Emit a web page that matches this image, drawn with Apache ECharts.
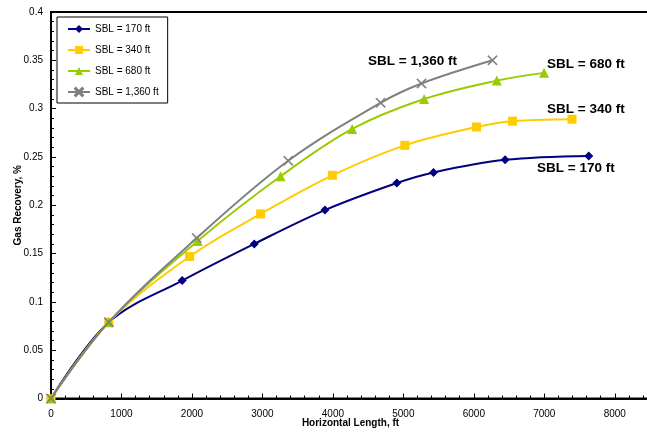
<!DOCTYPE html>
<html>
<head>
<meta charset="utf-8">
<script src="https://cdn.jsdelivr.net/npm/echarts@6/dist/echarts.min.js"></script>
<style>html,body{margin:0;padding:0;background:#fff;}#c{width:647px;height:438px;}</style>
</head>
<body>
<div id="c"></div>
<script>
var seriesNames = ['SBL = 170 ft', 'SBL = 340 ft', 'SBL = 680 ft', 'SBL = 1,360 ft'];
var sbl170 = [[0, 0], [820, 0.079], [1862, 0.122], [2884, 0.160], [3887, 0.195], [4908, 0.223], [5428, 0.234], [6444, 0.247], [7631, 0.251]];
var sbl340 = [[0, 0], [820, 0.079], [1967, 0.147], [2974, 0.191], [3993, 0.231], [5021, 0.262], [6038, 0.281], [6549, 0.287], [7394, 0.289]];
var sbl680 = [[0, 0], [820, 0.079], [2081, 0.163], [3258, 0.230], [4274, 0.279], [5295, 0.310], [6326, 0.329], [6997, 0.337]];
var sbl1360 = [[0, 0], [820, 0.079], [2067, 0.166], [3366, 0.246], [4677, 0.306], [5258, 0.326], [6265, 0.350]];
var endLabels = ['SBL = 170 ft', 'SBL = 340 ft', 'SBL = 680 ft', 'SBL = 1,360 ft'];
var xTitle = 'Horizontal Length, ft';
var yTitle = 'Gas Recovery, %';

var colors = ['#000080', '#FFCC00', '#99CC00', '#808080'];
var xPath = 'path://M0,1L1,0L5,4L9,0L10,1L6,5L10,9L9,10L5,6L1,10L0,9L4,5Z';
var symbols = ['diamond', 'rect', 'triangle', xPath];
var symSizes = [9, 9, 10, 10];
var datasets = [sbl170, sbl340, sbl680, sbl1360];

var chart = echarts.init(document.getElementById('c'), null, {renderer: 'canvas'});
var font = 'Arial, "Liberation Sans", sans-serif';
var lblStyle = {fontFamily: font, fontSize: 13.5, fontWeight: 'bold', fill: '#000'};

chart.setOption({
  animation: false,
  backgroundColor: '#fff',
  color: colors,
  grid: {left: 51, top: 12, bottom: 39.5, right: -3, outerBoundsMode: 'none', containLabel: false,
         show: true, borderColor: '#000', borderWidth: 2, backgroundColor: 'transparent'},
  legend: {
    orient: 'vertical', left: 57, top: 17,
    padding: [7, 9, 6, 10], itemGap: 11, itemWidth: 22, itemHeight: 10,
    borderColor: '#000', borderWidth: 1, backgroundColor: '#fff',
    textStyle: {fontFamily: font, fontSize: 10, color: '#000'},
    data: seriesNames
  },
  xAxis: {
    type: 'value', min: 0, max: 8500, interval: 1000,
    name: xTitle, nameLocation: 'middle', nameGap: 20, nameMoveOverlap: false,
    nameTextStyle: {fontFamily: font, fontSize: 10, fontWeight: 'bold', color: '#000'},
    axisLine: {show: true, lineStyle: {color: '#000', width: 2}},
    axisTick: {show: true, inside: true, length: 5, lineStyle: {color: '#000', width: 1}},
    minorTick: {show: true, splitNumber: 5, length: 3, lineStyle: {color: '#000', width: 1}},
    axisLabel: {fontFamily: font, fontSize: 10, color: '#000', margin: 11, showMaxLabel: false,
                formatter: function (v) { return String(v); }},
    splitLine: {show: false}
  },
  yAxis: {
    type: 'value', min: 0, max: 0.4, interval: 0.05,
    name: yTitle, nameLocation: 'middle', nameGap: 28, nameMoveOverlap: false,
    nameTextStyle: {fontFamily: font, fontSize: 10, fontWeight: 'bold', color: '#000'},
    axisLine: {show: true, lineStyle: {color: '#000', width: 2}},
    axisTick: {show: true, inside: true, length: 5, lineStyle: {color: '#000', width: 1}},
    minorTick: {show: true, splitNumber: 5, length: 3, lineStyle: {color: '#000', width: 1}},
    axisLabel: {fontFamily: font, fontSize: 10, color: '#000', margin: 8},
    splitLine: {show: false}
  },
  series: datasets.map(function (d, i) {
    return {
      name: seriesNames[i], type: 'line', data: d, smooth: 0.35,
      symbol: symbols[i], symbolSize: symSizes[i], showAllSymbol: true,
      lineStyle: {color: colors[i], width: 2},
      itemStyle: {color: colors[i], borderColor: colors[i], borderWidth: i === 3 ? 0.3 : 0},
      z: 2 + i
    };
  }),
  graphic: [
    {type: 'text', left: 368, top: 54.5, style: Object.assign({text: endLabels[3]}, lblStyle)},
    {type: 'text', left: 547, top: 57.5, style: Object.assign({text: endLabels[2]}, lblStyle)},
    {type: 'text', left: 547, top: 102, style: Object.assign({text: endLabels[1]}, lblStyle)},
    {type: 'text', left: 537, top: 161, style: Object.assign({text: endLabels[0]}, lblStyle)}
  ]
});
</script>
</body>
</html>
